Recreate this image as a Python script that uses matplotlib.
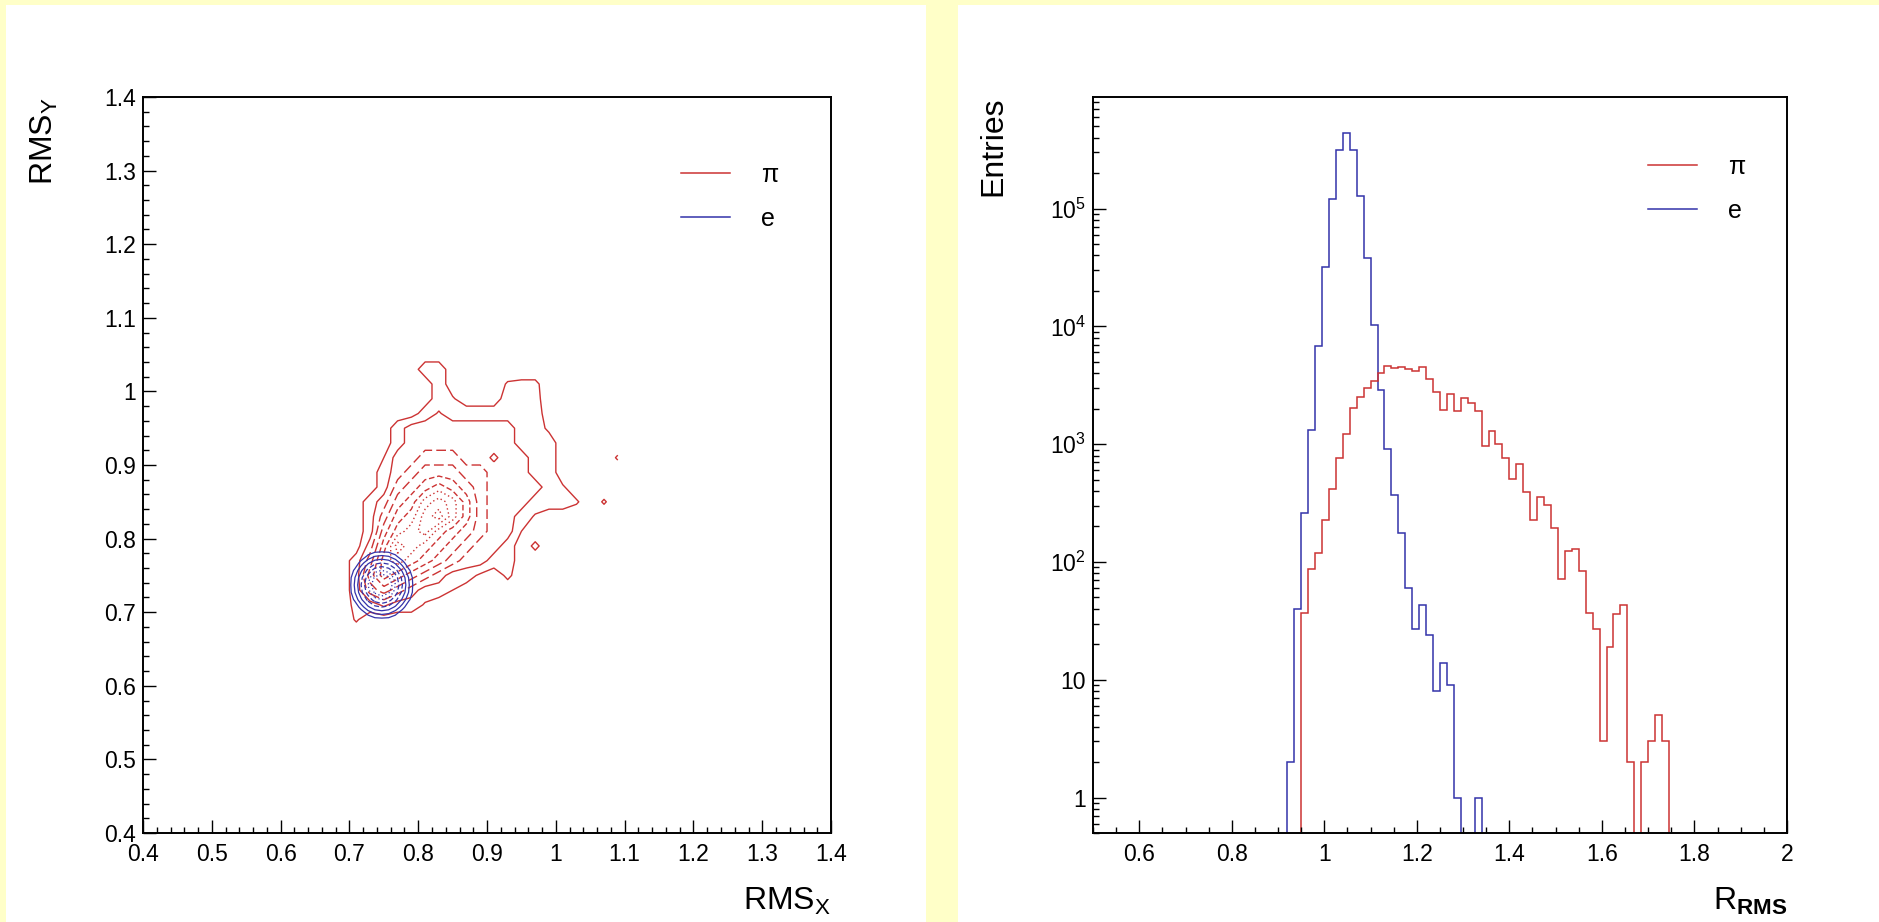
import numpy as np
import matplotlib.pyplot as plt
from matplotlib.patches import Rectangle
from matplotlib.lines import Line2D
from matplotlib.ticker import MultipleLocator, LogLocator, FuncFormatter, FormatStrFormatter, NullFormatter

plt.rcParams['font.family'] = ['Liberation Sans', 'DejaVu Sans']
plt.rcParams['mathtext.fontset'] = 'custom'
plt.rcParams['mathtext.rm'] = 'Liberation Sans'
plt.rcParams['mathtext.bf'] = 'Liberation Sans:bold'

RED = '#cc3333'
BLUE = '#3333aa'
YELLOW = '#ffffc8'

# ---- left panel: contour levels of RMS_Y vs RMS_X (level index per 0.02 cell)
pi_x = np.round(np.arange(0.69, 1.10, 0.02), 2)
pi_y = np.round(np.arange(1.05, 0.66, -0.02), 2)  # rows listed top -> bottom
pi_level = [
    [0, 0, 0, 0,   0, 0, 0,  0,   0,  0, 0,  0,   0,  0,  0,  0,  0,  0,  0, 0,  0],
    [0, 0, 0, 0,   0, 0, 1,  1,   0,  0, 0,  0,   0,  0,  0,  0,  0,  0,  0, 0,  0],
    [0, 0, 0, 0,   0, 0, 0,  1,   0,  0, 0,  0,  .6, .7, .7,  0,  0,  0,  0, 0,  0],
    [0, 0, 0, 0,   0, 0, 0,  1,  .6,  0, 0,  0,   1,  1, .8,  0,  0,  0,  0, 0,  0],
    [0, 0, 0, 0,   0, 0, 1, 1.6,  1,  1, 1,  1,   1,  1,  1,  0,  0,  0,  0, 0,  0],
    [0, 0, 0, 0,   1, 2, 2,  2,   2,  2, 2,  2,   2,  1,  1, .3,  0,  0,  0, 0,  0],
    [0, 0, 0, 0,   1, 2, 2,  2,   2,  2, 2,  2,   2,  1,  1,  1,  0,  0,  0, 0,  0],
    [0, 0, 0, .5,  2, 2, 3,  3,   3,  2, 2, 1.3,  2,  2,  1,  1,  0,  0,  0, 0, .6],
    [0, 0, 0, 1,   2, 3, 4,  4,   4,  3, 3,  2,   2,  2,  1,  1,  0,  0,  0, 0,  0],
    [0, 0, 0, 1,   3, 4, 5,  6,   5,  4, 3,  2,   2,  2,  2,  1, .6,  0,  0, 0,  0],
    [0, 0, 1, 2,   4, 5, 7,  8,   7,  5, 3,  2,   2,  2,  1,  1,  1, .6,  0, .6, 0],
    [0, 0, 1, 3,   5, 6, 8,  9,   7,  5, 3,  2,   2,  1, .4,  0,  0,  0,  0, 0,  0],
    [0, 0, 1, 4,   6, 7, 8,  6,   5,  4, 3,  2,   2, .5,  0,  0,  0,  0,  0, 0,  0],
    [0, 0, 2, 5,   8, 7, 6,  5,   4,  3, 2,  2,   1,  0, .7,  0,  0,  0,  0, 0,  0],
    [0, 1, 3, 6,   7, 6, 5,  4,   3,  2, 2,  1,   1,  0,  0,  0,  0,  0,  0, 0,  0],
    [0, 1, 4, 6,   5, 4, 3,  2,   1,  1, .3, 0,  .7,  0,  0,  0,  0,  0,  0, 0,  0],
    [0, 1, 3, 4,   3, 2, 1,  1,  .5,  0, 0,  0,   0,  0,  0,  0,  0,  0,  0, 0,  0],
    [0, .8, 1, 1.7, 1, 1, .4, 0,   0,  0, 0,  0,   0,  0,  0,  0,  0,  0,  0, 0,  0],
    [0, .6, 0, 0,   0, 0, 0,  0,   0,  0, 0,  0,   0,  0,  0,  0,  0,  0,  0, 0,  0],
    [0, 0, 0, 0,   0, 0, 0,  0,   0,  0, 0,  0,   0,  0,  0,  0,  0,  0,  0, 0,  0],
]
pi_levels = [0.5, 1.5, 2.5, 3.5, 4.5, 5.5, 6.5, 7.5, 8.5]
pi_styles = ['-', '-', (0, (7, 3)), (0, (7, 3)), (0, (4, 2)), (0, (4, 2)),
             (0, (1, 2)), (0, (1, 2)), (0, (1, 2))]

e_x = np.round(np.arange(0.697, 0.798, 0.01), 3)
e_y = np.round(np.arange(0.687, 0.788, 0.01), 3)
e_level = [
    [0, 0,   0,   0,   0,   0,  0,   0,   0,   0,   0],
    [0, 0,   0,   1.1, 1.8, 2,  1.8, 1.1, 0,   0,   0],
    [0, 0,   1.5, 2.8, 3.7, 4,  3.7, 2.8, 1.5, 0,   0],
    [0, 1.1, 2.8, 4.3, 5.5, 6,  5.5, 4.3, 2.8, 1.1, 0],
    [0, 1.8, 3.7, 5.5, 7.2, 8,  7.2, 5.5, 3.7, 1.8, 0],
    [0, 2,   4,   6,   8,   10, 8,   6,   4,   2,   0],
    [0, 1.8, 3.7, 5.5, 7.2, 8,  7.2, 5.5, 3.7, 1.8, 0],
    [0, 1.1, 2.8, 4.3, 5.5, 6,  5.5, 4.3, 2.8, 1.1, 0],
    [0, 0,   1.5, 2.8, 3.7, 4,  3.7, 2.8, 1.5, 0,   0],
    [0, 0,   0,   1.1, 1.8, 2,  1.8, 1.1, 0,   0,   0],
    [0, 0,   0,   0,   0,   0,  0,   0,   0,   0,   0],
]
e_levels = [1, 2, 3, 4, 5, 6, 7]
e_styles = ['-', '-', '-', (0, (4, 2)), (0, (4, 2)), (0, (1, 2)), (0, (1, 2))]

# ---- right panel: R_RMS histograms, 100 bins 0.5 - 2.0
edges = np.linspace(0.5, 2.0, 101)
e_first = 28   # first filled bin [0.92, 0.935]
e_counts = [2, 40, 260, 1330, 6860, 32000, 120000, 313000, 441000, 313000, 128000,
            38400, 10300, 2900, 910, 373, 177, 60, 27, 43, 24, 8, 14, 9, 1, 0, 0, 1]
pi_first = 30  # first filled bin [0.95, 0.965]
pi_counts = [37, 87, 120, 226, 415, 760, 1225, 2030, 2520, 3020, 3430, 4020, 4570, 4430,
             4520, 4340, 4180, 4480, 3570, 2750, 1940, 2660, 1900, 2460, 2230, 1900, 971,
             1290, 1004, 761, 502, 676, 393, 229, 357, 302, 196, 72, 124, 130, 83, 37, 27,
             3, 19, 36, 43, 2, 0, 2, 3, 5, 3]

e_hist = np.zeros(len(edges) - 1)
e_hist[e_first:e_first + len(e_counts)] = e_counts
pi_hist = np.zeros(len(edges) - 1)
pi_hist[pi_first:pi_first + len(pi_counts)] = pi_counts

fig = plt.figure(figsize=(18.79, 9.22), dpi=100, facecolor=YELLOW)
fig.patches.append(Rectangle((6 / 1879, 0), 920 / 1879, 917 / 922, transform=fig.transFigure,
                             facecolor='white', edgecolor='none', zorder=-10))
fig.patches.append(Rectangle((958 / 1879, 0), 921 / 1879, 917 / 922, transform=fig.transFigure,
                             facecolor='white', edgecolor='none', zorder=-10))

ax1 = fig.add_axes([0.0761, 0.0965, 0.3662, 0.7983])
ax2 = fig.add_axes([0.5817, 0.0965, 0.3693, 0.7983])

ax1.contour(pi_x, pi_y[::-1], np.array(pi_level)[::-1], levels=pi_levels,
            colors=RED, linewidths=1.0, linestyles=pi_styles)
ax1.contour(e_x, e_y, np.array(e_level), levels=e_levels,
            colors=BLUE, linewidths=0.9, linestyles=e_styles)
ax1.set_xlim(0.4, 1.4)
ax1.set_ylim(0.4, 1.4)
ax1.xaxis.set_major_locator(MultipleLocator(0.1))
ax1.xaxis.set_minor_locator(MultipleLocator(0.02))
ax1.yaxis.set_major_locator(MultipleLocator(0.1))
ax1.yaxis.set_minor_locator(MultipleLocator(0.02))
ax1.xaxis.set_major_formatter(FormatStrFormatter('%g'))
ax1.yaxis.set_major_formatter(FormatStrFormatter('%g'))

for counts, col in ((e_hist, BLUE), (pi_hist, RED)):
    ax2.stairs(np.where(counts > 0, counts, 1e-2), edges, baseline=1, color=col, lw=1.1)
ax2.set_yscale('log')
ax2.set_xlim(0.5, 2.0)
ax2.set_ylim(0.5, 8.85e5)
ax2.xaxis.set_major_locator(MultipleLocator(0.2))
ax2.xaxis.set_minor_locator(MultipleLocator(0.05))
ax2.xaxis.set_major_formatter(FormatStrFormatter('%g'))
ax2.yaxis.set_major_locator(LogLocator(base=10))
ax2.yaxis.set_minor_locator(LogLocator(base=10, subs=np.arange(2, 10)))
ax2.yaxis.set_minor_formatter(NullFormatter())
ax2.yaxis.set_major_formatter(FuncFormatter(
    lambda v, p: '%g' % v if v < 100 else '10$^{%d}$' % round(np.log10(v))))

for ax in (ax1, ax2):
    ax.set_facecolor('white')
    for s in ax.spines.values():
        s.set_linewidth(1.4)
    ax.tick_params(which='both', direction='in', top=False, right=False,
                   labelsize=16.5, width=1.0)
    ax.tick_params(which='major', length=9.5)
    ax.tick_params(which='minor', length=4.5)
    ax.tick_params(axis='x', pad=7)
    ax.tick_params(axis='y', pad=5)
    handles = [Line2D([], [], color=RED, lw=1.1), Line2D([], [], color=BLUE, lw=1.1)]
    ax.legend(handles, ['π', 'e'], loc='upper left', frameon=False, fontsize=18,
              handlelength=1.95, handletextpad=1.25, labelspacing=0.8, borderpad=0,
              borderaxespad=0,
              bbox_to_anchor=(0.782, 0.91) if ax is ax1 else (0.80, 0.921))

ax1.text(1.0, -0.104, r'RMS$_{\mathrm{X}}$', transform=ax1.transAxes, ha='right',
         va='baseline', fontsize=23)
ax1.text(-0.144, 1.0, r'RMS$_{\mathrm{Y}}$', transform=ax1.transAxes, ha='center',
         va='top', rotation=90, fontsize=23)
ax2.text(1.0, -0.104, r'R$_{\mathbf{RMS}}$', transform=ax2.transAxes, ha='right',
         va='baseline', fontsize=23)
ax2.text(-0.143, 1.0, 'Entries', transform=ax2.transAxes, ha='center',
         va='top', rotation=90, fontsize=23)

fig.savefig('out.png', dpi=100, facecolor=YELLOW)
